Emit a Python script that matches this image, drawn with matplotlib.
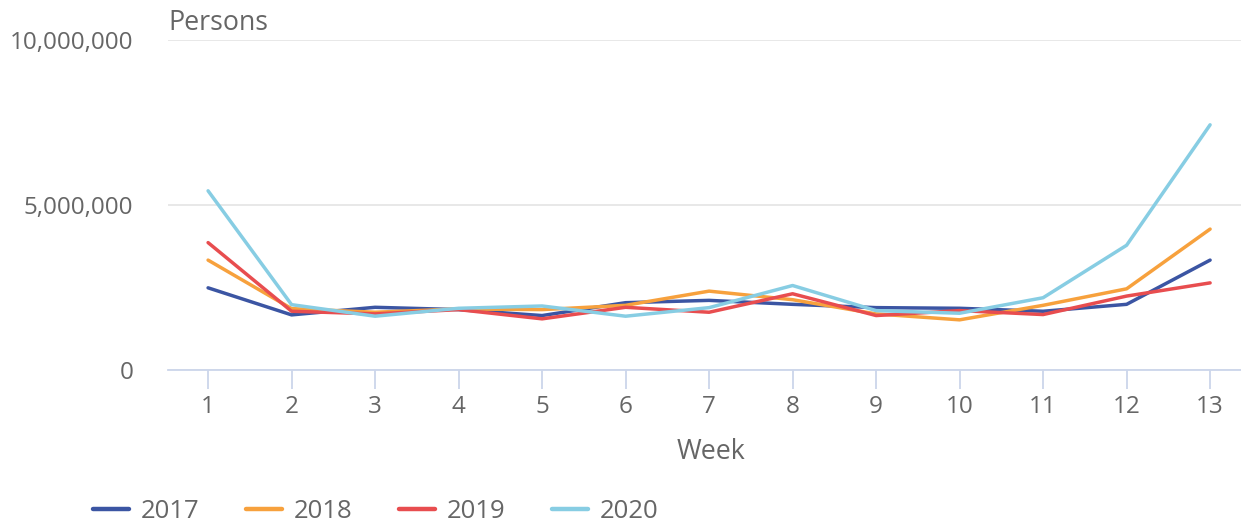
import matplotlib
matplotlib.use("Agg")
import matplotlib.pyplot as plt
from matplotlib.ticker import FuncFormatter

weeks = list(range(1, 14))
s2017 = [2.49, 1.67, 1.90, 1.83, 1.65, 2.04, 2.11, 1.99, 1.89, 1.87, 1.78, 1.99, 3.33]
s2018 = [3.33, 1.86, 1.75, 1.85, 1.83, 1.96, 2.39, 2.13, 1.70, 1.52, 1.96, 2.46, 4.27]
s2019 = [3.86, 1.78, 1.70, 1.83, 1.55, 1.90, 1.75, 2.31, 1.65, 1.80, 1.68, 2.24, 2.64]
s2020 = [5.43, 1.98, 1.63, 1.87, 1.94, 1.63, 1.89, 2.56, 1.80, 1.72, 2.19, 3.78, 7.43]
series = {"2017": s2017, "2018": s2018, "2019": s2019, "2020": s2020}
colors = {"2017": "#3b55a3", "2018": "#f7a13d", "2019": "#e84d4f", "2020": "#87cde3"}
yticks = [0, 5_000_000, 10_000_000]

plt.rcParams["font.family"] = ["Open Sans", "DejaVu Sans"]
txt = "#666666"
fs = 19.3
tfs = 17.5
lfs = 18.5

fig = plt.figure(figsize=(12.41, 5.24), dpi=100)
ax = fig.add_axes([168/1241, (524-370)/524, 1 - 168/1241, 330/524])

for name, vals in series.items():
    ax.plot(weeks, [v * 1_000_000 for v in vals], color=colors[name], lw=2.5,
            label=name, solid_capstyle="round", solid_joinstyle="round")

ax.set_xlim(0.52, 13.37)
ax.set_ylim(0, 10_000_000)
ax.set_yticks(yticks)
ax.yaxis.set_major_formatter(FuncFormatter(lambda v, p: f"{int(v):,}"))
ax.set_xticks(weeks)
ax.grid(axis="y", color="#e6e6e6", lw=1.3)
ax.set_axisbelow(True)
for s in ["top", "right", "left"]:
    ax.spines[s].set_visible(False)
ax.spines["bottom"].set_color("#ccd6eb")
ax.spines["bottom"].set_linewidth(1.3)
ax.tick_params(axis="x", length=14, width=1.3, color="#ccd6eb", labelsize=tfs,
               labelcolor=txt, pad=4)
ax.tick_params(axis="y", length=0, labelsize=tfs, labelcolor=txt, pad=25)

ax.set_xlabel("Week", fontsize=fs, color=txt)
ax.xaxis.set_label_coords((711 - 168) / 1073, -(452 - 370) / 330)
ax.xaxis.label.set_va("center")
fig.text(168/1241, 1 - 23/524, "Persons", fontsize=fs, color=txt, va="center", ha="left")

leg = fig.legend(loc="center left", bbox_to_anchor=(93/1241, 1 - 511/524), ncol=4,
                 frameon=False, fontsize=lfs, handlelength=1.42, handletextpad=0.45,
                 columnspacing=1.8, borderaxespad=0, borderpad=0)
for t in leg.get_texts():
    t.set_color(txt)
for h in leg.get_lines():
    h.set_linewidth(3.2)

fig.savefig("out.png", dpi=100)
